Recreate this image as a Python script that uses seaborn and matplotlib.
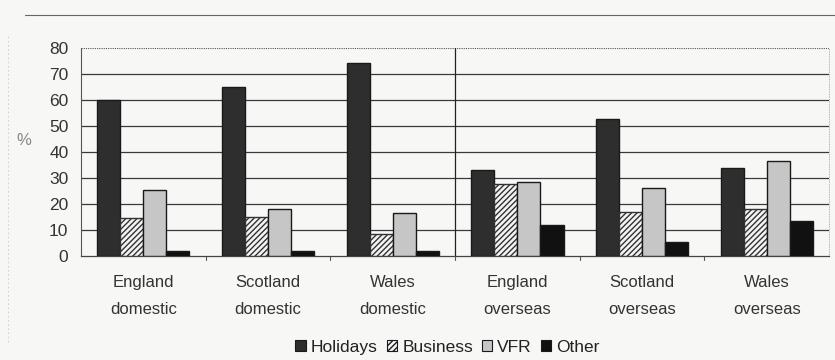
import matplotlib
matplotlib.use("Agg")
import matplotlib.pyplot as plt
import seaborn as sns
import pandas as pd
from matplotlib.patches import Patch
from matplotlib.lines import Line2D

categories = ["England\ndomestic", "Scotland\ndomestic", "Wales\ndomestic",
              "England\noverseas", "Scotland\noverseas", "Wales\noverseas"]
series = ["Holidays", "Business", "VFR", "Other"]
holidays = [60, 65, 74, 33, 52.5, 34]
business = [14.5, 15, 8.5, 27.5, 17, 18]
vfr = [25.5, 18, 16.5, 28.5, 26, 36.5]
other = [2, 2, 2, 12, 5.5, 13.5]
yticks = [0, 10, 20, 30, 40, 50, 60, 70, 80]

values = {"Holidays": holidays, "Business": business, "VFR": vfr, "Other": other}
rows = []
for s in series:
    for c, v in zip(categories, values[s]):
        rows.append({"group": c, "purpose": s, "pct": v})
df = pd.DataFrame(rows)

sns.set_style("white")
plt.rcParams["font.family"] = ["Liberation Sans", "DejaVu Sans"]
plt.rcParams["hatch.linewidth"] = 1.0

bg = "#f7f7f5"
fig = plt.figure(figsize=(8.35, 3.6), dpi=100, facecolor=bg)
ax = fig.add_axes([0.097, 0.289, 0.896, 0.578])
ax.set_facecolor(bg)

fills = {"Holidays": "#2e2e2e", "Business": "#f4f4f4", "VFR": "#c6c6c6", "Other": "#111111"}
sns.barplot(data=df, x="group", y="pct", hue="purpose", order=categories,
            hue_order=series, palette=fills, width=0.74, saturation=1,
            edgecolor="#1a1a1a", linewidth=1.0, legend=False, ax=ax, zorder=3)

# hatch the Business bars
for cont, s in zip(ax.containers, series):
    for bar in cont:
        if s == "Business":
            bar.set_hatch("//////")
            bar.set_edgecolor("#333333")

ax.set_ylim(0, 80)
ax.set_xlim(-0.5, len(categories) - 0.5)
ax.set_yticks(yticks)
ax.tick_params(axis="y", labelsize=12.5, colors="#333333", length=4, pad=5)
ax.set_xticks(range(len(categories)), categories)
ax.tick_params(axis="x", labelsize=12, colors="#333333", length=0, pad=14)
fig.canvas.draw()
for lbl in ax.get_xticklabels():
    lbl.set_linespacing(1.95)
ax.set_xlabel("")
ax.set_ylabel("%", rotation=0, fontsize=12, color="#888888")
ax.yaxis.set_label_coords(-0.077, 0.52)

# gridlines
for y in yticks[1:-1]:
    ax.axhline(y, color="#3a3a3a", lw=0.9, zorder=1)
ax.axhline(80, color="#555555", lw=0.8, ls=(0, (1, 1)), zorder=1)

# category boundary ticks on the x axis
for i in range(1, len(categories)):
    ax.plot([i - 0.5, i - 0.5], [0, -1.5], color="#555555", lw=0.8, clip_on=False)

# divider between domestic and overseas
ax.axvline(2.5, color="#222222", lw=0.9, zorder=2)

for side in ["top", "right"]:
    ax.spines[side].set_visible(False)
ax.spines["left"].set_color("#555555")
ax.spines["left"].set_linewidth(0.8)
ax.spines["bottom"].set_color("#444444")
ax.spines["bottom"].set_linewidth(0.9)
ax.plot([1, 1], [0, 1], transform=ax.transAxes, color="#999999", lw=0.6,
        ls=(0, (1, 1)), clip_on=False)

# outer frame line above the chart
fig.add_artist(Line2D([0.03, 1.0], [0.958, 0.958], color="#666666", lw=0.8))
fig.add_artist(Line2D([0.009, 0.009], [0.05, 0.9], color="#cccccc", lw=0.6, ls=(0, (2, 3))))

handles = [Patch(facecolor=fills[s], edgecolor="#1a1a1a", lw=0.8,
                 hatch="//////" if s == "Business" else None) for s in series]
fig.legend(handles, series, loc="center", bbox_to_anchor=(0.536, 0.036), ncol=4,
           frameon=False, fontsize=12.5, handlelength=0.6, handleheight=0.6,
           handletextpad=0.3, columnspacing=0.5, labelcolor="#222222")

fig.savefig("out.png", dpi=100, facecolor=bg)
